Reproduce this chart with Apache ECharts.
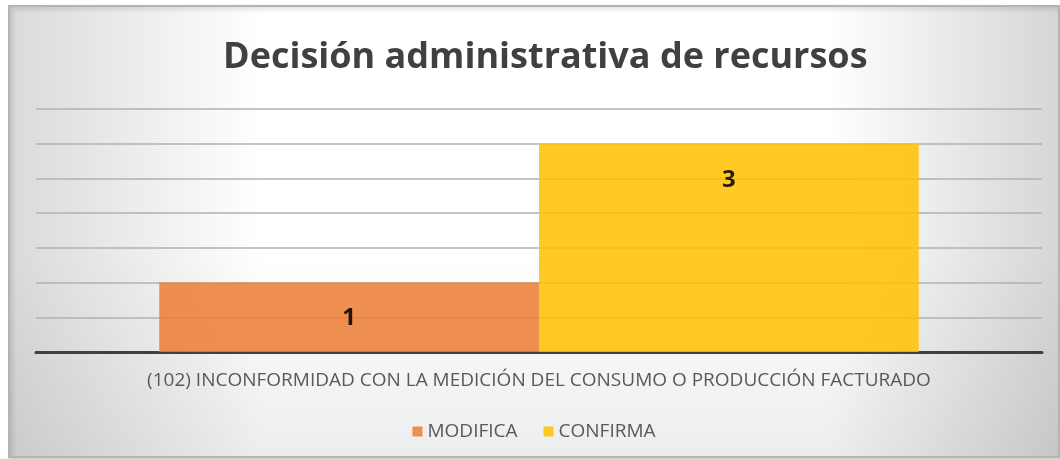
<!DOCTYPE html>
<html>
<head>
<meta charset="utf-8">
<script src="https://cdn.jsdelivr.net/npm/echarts@6/dist/echarts.min.js"></script>
<style>
  html, body { margin: 0; padding: 0; background: #ffffff; }
  #frame {
    position: absolute; left: 8px; top: 5px; width: 1048px; height: 449px;
    border: 2px solid #b4b4b4;
    box-shadow: inset 3px 3px 4px rgba(0,0,0,0.10), 1px 1px 2px rgba(0,0,0,0.25);
    background:
      linear-gradient(to bottom, rgba(0,0,0,0) 55%, rgba(0,0,0,0.07) 100%),
      linear-gradient(to right, #dadada 0%, #ffffff 24%, #ffffff 78%, #d6d6d6 100%);
  }
  #main { width: 1048px; height: 449px; }
</style>
</head>
<body>
<div id="frame"><div id="main"></div></div>
<script>
// chart data
const titleText = 'Decisión administrativa de recursos'
const categories = ['(102) INCONFORMIDAD CON LA MEDICIÓN DEL CONSUMO O PRODUCCIÓN FACTURADO']
const seriesNames = ['MODIFICA', 'CONFIRMA']
const modificaValues = [1]
const confirmaValues = [3]

const chart = echarts.init(document.getElementById('main'))

const valueLabel = {
  show: true,
  position: 'insideTop',
  distance: 24,
  color: '#000',
  fontSize: 24,
  fontWeight: 'bold',
  fontFamily: 'Open Sans'
}

chart.setOption({
  backgroundColor: 'transparent',
  textStyle: { fontFamily: 'Open Sans' },
  title: {
    text: titleText,
    left: 208,
    top: 28,
    textStyle: { fontSize: 36, fontWeight: 'bold', color: '#404040', fontFamily: 'Open Sans' }
  },
  legend: {
    bottom: 10,
    left: 'center',
    itemWidth: 10,
    itemHeight: 10,
    itemGap: 26,
    icon: 'rect',
    textStyle: { fontSize: 19, color: '#595959' },
    data: seriesNames
  },
  grid: { left: 26, right: 16, top: 102, bottom: 104 },
  xAxis: {
    type: 'category',
    data: categories,
    axisLine: { lineStyle: { color: '#404040', width: 3 } },
    axisTick: { show: false },
    axisLabel: { fontSize: 19, color: '#595959', margin: 19 }
  },
  yAxis: {
    type: 'value',
    min: 0,
    max: 3.5,
    interval: 0.5,
    axisLabel: { show: false },
    axisLine: { show: false },
    axisTick: { show: false },
    splitLine: { lineStyle: { color: '#b0b0b0', width: 1.5 } }
  },
  series: [
    {
      name: seriesNames[0],
      type: 'bar',
      data: modificaValues,
      barGap: '0%',
      barCategoryGap: '24.5%',
      itemStyle: { color: '#ED7D31', opacity: 0.85 },
      label: valueLabel
    },
    {
      name: seriesNames[1],
      type: 'bar',
      data: confirmaValues,
      itemStyle: { color: '#FFC000', opacity: 0.85 },
      label: valueLabel
    }
  ]
})
</script>
</body>
</html>
